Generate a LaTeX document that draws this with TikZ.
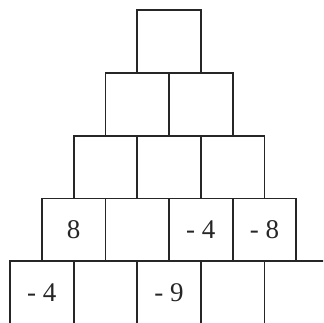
\documentclass[tikz,border=0pt]{standalone}
\usepackage{fontspec}
\setmainfont{Liberation Serif}
\begin{document}
\begin{tikzpicture}[x=1pt,y=-1pt,
  cell/.style={draw=black!85,line width=1.8pt,minimum width=63.6pt,minimum height=62.8pt,inner sep=0pt,outer sep=0pt},
  num/.style={font=\fontsize{27}{29}\selectfont,text=black!85,inner sep=0pt}]
\useasboundingbox (0,0) rectangle (323,323);
\clip (0,0) rectangle (323,323);
% row r (1..5), column c
\foreach \r in {1,...,5}{
  \foreach \c in {1,...,\r}{
    \node[cell] (b\r\c) at ({10+(5-\r)*31.8+(\c-1)*63.6+31.8},{10+(\r-1)*62.8+31.4}) {};
  }
}
\node[num] (t41) at (b41) {8};
\node[num] (t43) at (b43) {- 4};
\node[num] (t44) at (b44) {- 8};
\node[num] (t51) at (b51) {- 4};
\node[num] (t53) at (b53) {- 9};
\end{tikzpicture}
\end{document}
